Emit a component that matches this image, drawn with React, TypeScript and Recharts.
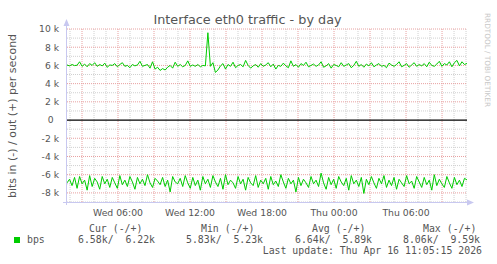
import React from 'react';
import { ComposedChart, Line, XAxis, YAxis, ReferenceLine } from 'recharts';

// bits per second (in thousands), out (+) series
const bpsOut = [
  6.05, 5.95, 6.1, 5.98, 6.02, 6.4, 5.9, 6.15, 5.85, 6.2,
  6.0, 6.3, 5.9, 6.1, 5.95, 6.25, 5.8, 6.05, 6.0, 6.2,
  5.85, 6.1, 6.3, 5.9, 6.0, 5.75, 6.1, 5.95, 6.05, 6.45,
  5.9, 6.0, 6.1, 5.7, 6.4, 5.6, 5.8, 5.45, 5.65, 5.5,
  5.8, 6.0, 5.7, 6.35, 5.9, 6.1, 5.85, 6.0, 6.5, 5.9,
  6.05, 5.9, 6.1, 5.85, 6.0, 5.95, 9.59, 5.9, 6.3, 5.23,
  5.5, 5.95, 6.2, 5.6, 6.1, 5.9, 6.35, 5.75, 6.0, 6.1,
  5.85, 6.55, 6.0, 5.7, 5.95, 6.1, 5.8, 6.2, 5.9, 6.05,
  6.3, 5.85, 6.15, 5.6, 6.0, 5.9, 6.25, 5.95, 5.75, 6.5,
  5.9, 6.1, 5.8, 6.2, 6.0, 6.35, 5.85, 6.0, 6.15, 5.9,
  6.05, 6.4, 5.8, 5.95, 6.2, 5.7, 6.1, 6.0, 5.85, 6.3,
  5.9, 6.05, 6.2, 5.75, 6.0, 6.45, 5.9, 6.1, 5.8, 6.15,
  5.95, 6.3, 5.85, 6.05, 6.2, 5.9, 6.0, 5.75, 6.25, 6.05,
  5.9, 6.1, 6.4, 5.85, 6.0, 6.2, 5.8, 6.05, 6.3, 5.9,
  6.1, 5.95, 6.2, 5.85, 6.35, 6.0, 5.9, 6.15, 6.45, 5.9,
  6.2, 6.05, 6.4, 5.85, 6.3, 6.55, 5.95, 6.4, 6.1, 6.22,
];

// bits per second (in thousands), in (-) series magnitudes
const bpsIn = [
  6.9, 6.5, 7.2, 6.3, 7.5, 6.2, 7.0, 6.6, 7.7, 6.1,
  7.3, 6.4, 6.8, 7.6, 6.2, 7.0, 6.5, 7.4, 6.3, 6.9,
  7.5, 6.1, 7.1, 6.6, 7.3, 6.2, 6.8, 7.6, 6.3, 7.0,
  6.5, 7.2, 6.0, 6.9, 7.4, 6.4, 6.7, 7.1, 6.3, 7.3,
  6.6, 7.9, 6.2, 6.8, 7.0, 6.4, 7.3, 6.1, 6.9, 7.5,
  6.3, 7.2, 6.6, 7.7, 6.2, 7.0, 6.5, 7.4, 6.1, 6.8,
  7.3, 6.4, 7.6, 6.0, 7.1, 6.6, 6.9, 7.5, 6.2, 7.0,
  6.5, 7.7, 6.3, 6.9, 7.2, 6.1, 7.4, 6.6, 7.0, 6.4,
  7.6, 6.2, 7.1, 6.7, 7.3, 6.0, 6.8, 7.5, 6.4, 7.0,
  6.6, 7.9, 6.3, 7.2, 6.5, 6.9, 7.4, 6.2, 7.0, 6.6,
  7.3, 5.83, 6.9, 7.6, 6.3, 7.1, 6.5, 7.5, 6.2, 6.8,
  7.2, 6.4, 7.7, 6.1, 7.0, 6.6, 7.3, 6.3, 8.06, 6.5,
  7.1, 6.2, 6.9, 7.5, 6.4, 7.0, 6.1, 7.4, 6.6, 7.2,
  6.3, 7.6, 6.5, 6.9, 7.3, 6.1, 7.0, 6.7, 7.5, 6.2,
  6.8, 7.4, 6.3, 7.1, 6.6, 7.7, 6.0, 7.2, 6.5, 7.0,
  7.4, 6.2, 6.9, 7.5, 6.3, 7.1, 6.6, 7.3, 6.4, 6.58,
];

// time axis, hours since Wed 00:00
const startHour = 1.75;
const endHour = 35.08;
const xTickHours = [6, 12, 18, 24, 30];
const xTickLabels = ['Wed 06:00', 'Wed 12:00', 'Wed 18:00', 'Thu 00:00', 'Thu 06:00'];
const majorHours = [3, 6, 9, 12, 15, 18, 21, 24, 27, 30, 33];
const minorHours = [2, 4, 5, 7, 8, 10, 11, 13, 14, 16, 17, 19, 20, 22, 23, 25, 26, 28, 29, 31, 32, 34, 35];

// y axis (thousands)
const yTicks = [10, 8, 6, 4, 2, 0, -2, -4, -6, -8];
const yTickLabels = ['10 k', '8 k', '6 k', '4 k', '2 k', '0', '-2 k', '-4 k', '-6 k', '-8 k'];
const yMajor = [10, 8, 6, 4, 2, -2, -4, -6, -8];
const yMinor = [9, 7, 5, 3, 1, -1, -3, -5, -7, -9];

const legendHeader = ['Cur (-/+)', 'Min (-/+)', 'Avg (-/+)', 'Max (-/+)'];
const legendValues = ['6.58k/  6.22k', '5.83k/  5.23k', '6.64k/  5.89k', '8.06k/  9.59k'];
const legendHeaderX = [89, 201, 312, 423];
const legendValueX = [78, 186, 295, 403];

const title = 'Interface eth0 traffic - by day';
const yLabel = 'bits in (-) / out (+) per second';
const lastUpdate = 'Last update: Thu Apr 16 11:05:15 2026';

const step = (endHour - startHour) / (bpsOut.length - 1);
const rows = bpsOut.map((v, i) => ({ t: startHour + i * step, out: v, inn: -bpsIn[i] }));

const GREEN = '#00cc00';
const TEXT = '#555555';
const AXIS = '#c8c8f0';
const MINOR = '#d0d0d0';
const MAJOR = '#e8a0a0';

const XTick = (props: any) => {
  const { x, y, payload } = props;
  const idx = xTickHours.indexOf(payload.value);
  return (
    <text x={x} y={y + 14} textAnchor="middle" fontFamily="DejaVu Sans" fontSize={9.3} fill={TEXT}>
      {idx >= 0 ? xTickLabels[idx] : ''}
    </text>
  );
};

const YTick = (props: any) => {
  const { x, y, payload } = props;
  const idx = yTicks.indexOf(payload.value);
  const label = idx >= 0 ? yTickLabels[idx] : '';
  const isZero = payload.value === 0;
  return (
    <text x={x - (isZero ? 13.5 : 8)} y={y + 3.4} textAnchor="end" fontFamily="DejaVu Sans" fontSize={9.2} fill={TEXT}>
      {label}
    </text>
  );
};

export default function App() {
  return (
    <div style={{ position: 'absolute', left: 0, top: 0, width: 497, height: 264, background: '#ffffff' }}>
      <ComposedChart width={497} height={264} data={rows} margin={{ top: 29, right: 30, bottom: 0, left: 0 }}>
        <XAxis
          type="number"
          dataKey="t"
          domain={[startHour, endHour]}
          ticks={xTickHours}
          tick={<XTick />}
          height={62}
          tickSize={0}
          tickMargin={0}
          tickLine={false}
          axisLine={false}
          allowDataOverflow
          interval={0}
        />
        <YAxis
          type="number"
          domain={[-9, 10]}
          ticks={yTicks}
          tick={<YTick />}
          width={67}
          tickSize={0}
          tickMargin={0}
          tickLine={false}
          axisLine={false}
          allowDataOverflow
          interval={0}
        />
        {yMinor.map((v) => (
          <ReferenceLine key={'ym' + v} y={v} stroke={MINOR} strokeDasharray="1 1" />
        ))}
        {minorHours.map((h) => (
          <ReferenceLine key={'xm' + h} x={h} stroke={MINOR} strokeDasharray="1 1" />
        ))}
        {yMajor.map((v) => (
          <ReferenceLine key={'yM' + v} y={v} stroke={MAJOR} strokeDasharray="1 1" />
        ))}
        {majorHours.map((h) => (
          <ReferenceLine key={'xM' + h} x={h} stroke={MAJOR} strokeDasharray="1 1" />
        ))}
        <ReferenceLine y={0} stroke="#000000" strokeWidth={1.2} />
        <Line type="linear" dataKey="out" stroke={GREEN} strokeWidth={1} dot={false} isAnimationActive={false} />
        <Line type="linear" dataKey="inn" stroke={GREEN} strokeWidth={1} dot={false} isAnimationActive={false} />
      </ComposedChart>
      <svg width={497} height={264} style={{ position: 'absolute', left: 0, top: 0, pointerEvents: 'none' }}>
        <line x1={66.5} y1={205} x2={66.5} y2={24} stroke={AXIS} strokeWidth={1} />
        <polygon points="66.5,19 63.5,26 69.5,26" fill={AXIS} />
        <line x1={63} y1={202.5} x2={469} y2={202.5} stroke={AXIS} strokeWidth={1} />
        <polygon points="474,202.5 467,199.5 467,205.5" fill={AXIS} />
        <text x={247.5} y={24} textAnchor="middle" fontFamily="DejaVu Sans" fontSize={12.8} fill={TEXT}>{title}</text>
        <text
          x={0}
          y={0}
          transform="translate(15.5,116) rotate(-90)"
          textAnchor="middle"
          fontFamily="DejaVu Sans"
          fontSize={11}
          fill={TEXT}
        >
          {yLabel}
        </text>
        <text
          x={0}
          y={0}
          transform="translate(485,60) rotate(90)"
          textAnchor="middle"
          fontFamily="DejaVu Sans"
          fontSize={7.3}
          fill="#c8c8c8"
        >
          RRDTOOL / TOBI OETIKER
        </text>
        <rect x={14} y={237} width={6} height={6} fill={GREEN} />
        <text x={27} y={243} fontFamily="DejaVu Sans Mono" fontSize={9.85} fill={TEXT}>bps</text>
        {legendHeader.map((h, i) => (
          <text key={'h' + i} x={legendHeaderX[i]} y={232} fontFamily="DejaVu Sans Mono" fontSize={9.85} fill={TEXT} style={{ whiteSpace: 'pre' }}>
            {h}
          </text>
        ))}
        {legendValues.map((v, i) => (
          <text key={'v' + i} x={legendValueX[i]} y={243} fontFamily="DejaVu Sans Mono" fontSize={9.85} fill={TEXT} style={{ whiteSpace: 'pre' }}>
            {v}
          </text>
        ))}
        <text x={482} y={254} textAnchor="end" fontFamily="DejaVu Sans Mono" fontSize={9.85} fill={TEXT} style={{ whiteSpace: 'pre' }}>
          {lastUpdate}
        </text>
      </svg>
    </div>
  );
}
